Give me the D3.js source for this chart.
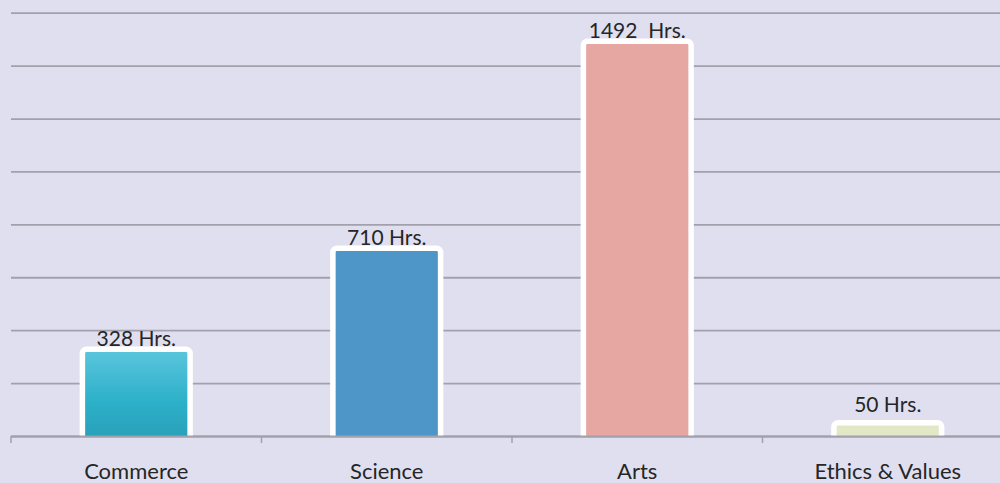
<!DOCTYPE html>
<html>
<head>
<meta charset="utf-8">
<script src="https://d3js.org/d3.v7.min.js"></script>
<style>
  html, body { margin: 0; padding: 0; background: #e0dff0; }
  svg { display: block; }
  .label { font-family: Lato, "Noto Sans", sans-serif; font-size: 21px; fill: #262626; }
  .cat { font-size: 22px; }
</style>
</head>
<body>
<div id="chart"></div>
<script>
const categories = ['Commerce', 'Science', 'Arts', 'Ethics & Values'];
const hours = [328, 710, 1492, 50];
const valueLabels = ['328 Hrs.', '710 Hrs.', '1492  Hrs.', '50 Hrs.'];
const barColors = ['#3fb3cc', '#4e96c8', '#e6a7a3', '#e2e7c6'];
const gridValues = [0, 200, 400, 600, 800, 1000, 1200, 1400, 1600];

const width = 1000;
const height = 483;
const margins = { top: 12.7, bottom: 47, left: 11, right: -13 };

const svg = d3.select('#chart')
  .append('svg')
  .attr('width', width)
  .attr('height', height);

svg.append('rect')
  .attr('width', width)
  .attr('height', height)
  .attr('fill', '#e0dff0');

const defs = svg.append('defs');
const grad = defs.append('linearGradient')
  .attr('id', 'commerceGrad')
  .attr('x1', 0).attr('y1', 0).attr('x2', 0).attr('y2', 1);
grad.append('stop').attr('offset', '0%').attr('stop-color', '#5bc6dd');
grad.append('stop').attr('offset', '55%').attr('stop-color', '#2cb0c9');
grad.append('stop').attr('offset', '100%').attr('stop-color', '#2a9cb6');

const xScale = d3.scaleBand()
  .domain(categories)
  .range([margins.left, width - margins.right])
  .paddingInner(0)
  .paddingOuter(0);

const yScale = d3.scaleLinear()
  .domain([0, 1600])
  .range([height - margins.bottom, margins.top]);

defs.append('clipPath')
  .attr('id', 'plotClip')
  .append('rect')
  .attr('x', 0)
  .attr('y', 0)
  .attr('width', width)
  .attr('height', yScale(0));

// gridlines
const yAxis = d3.axisLeft(yScale)
  .tickValues(gridValues)
  .tickSize(-(width - margins.left))
  .tickFormat('');

svg.append('g')
  .attr('class', 'grid')
  .attr('transform', 'translate(' + margins.left + ',0)')
  .call(yAxis)
  .call(g => g.select('.domain').remove())
  .call(g => g.selectAll('line').attr('stroke', '#a2a1ab').attr('stroke-width', 1.8));

// bars
const barW = xScale.bandwidth() * 0.43;
svg.append('g')
  .attr('clip-path', 'url(#plotClip)')
  .selectAll('rect.bar')
  .data(hours)
  .enter()
  .append('rect')
  .attr('class', 'bar')
  .attr('x', (d, i) => xScale(categories[i]) + xScale.bandwidth() / 2 - barW / 2)
  .attr('y', d => yScale(d))
  .attr('width', barW)
  .attr('height', d => yScale(0) - yScale(d) + 10)
  .attr('rx', 4)
  .attr('fill', (d, i) => i === 0 ? 'url(#commerceGrad)' : barColors[i])
  .attr('stroke', '#ffffff')
  .attr('stroke-width', 5.5);

// x axis
const xAxis = d3.axisBottom(xScale)
  .tickSize(0)
  .tickFormat('');

svg.append('g')
  .attr('class', 'xAxis')
  .attr('transform', 'translate(0,' + yScale(0) + ')')
  .call(xAxis)
  .call(g => g.select('.domain').attr('stroke', '#a2a1ab').attr('stroke-width', 2));

svg.append('g')
  .selectAll('line.tick')
  .data(categories)
  .enter()
  .append('line')
  .attr('x1', d => xScale(d))
  .attr('x2', d => xScale(d))
  .attr('y1', yScale(0))
  .attr('y2', yScale(0) + 7)
  .attr('stroke', '#a2a1ab')
  .attr('stroke-width', 1.5);

// category labels
svg.append('g')
  .selectAll('text.cat')
  .data(categories)
  .enter()
  .append('text')
  .attr('class', 'label cat')
  .attr('x', d => xScale(d) + xScale.bandwidth() / 2)
  .attr('y', yScale(0) + 43)
  .attr('text-anchor', 'middle')
  .text(d => d);

// value labels
svg.append('g')
  .selectAll('text.val')
  .data(hours)
  .enter()
  .append('text')
  .attr('class', 'label val')
  .attr('x', (d, i) => xScale(categories[i]) + xScale.bandwidth() / 2)
  .attr('y', d => Math.min(yScale(d) - 3, yScale(0) - 24))
  .attr('text-anchor', 'middle')
  .style('white-space', 'pre')
  .text((d, i) => valueLabels[i]);
</script>
</body>
</html>
